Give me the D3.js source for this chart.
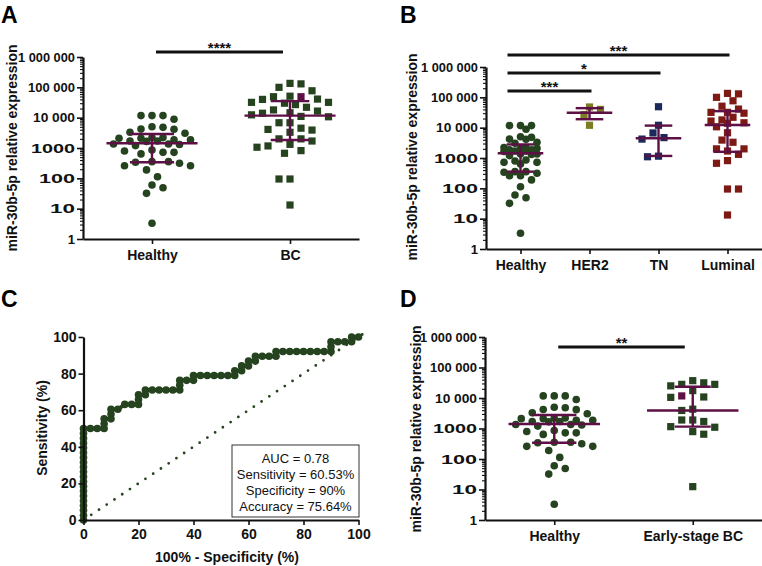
<!DOCTYPE html>
<html><head><meta charset="utf-8">
<script src="https://cdn.jsdelivr.net/npm/d3@7"></script>
<style>
body{margin:0;background:#fff}
svg{display:block}
text{font-family:Arial,"Liberation Sans",Helvetica,sans-serif}
</style>
</head><body>
<svg id="chart" width="762" height="566"></svg>
<script>
// ---------------- DATA ----------------
const healthy = [8900,11700,11700,11700,4800,4150,4200,5000,3050,3300,2200,2100,1850,2200,2100,1350,1200,1350,1300,1700,1650,1700,1850,860,720,640,720,800,355,340,260,260,315,355,190,113,49,60,32,3.3];
const bcAll = [135000,130000,100000,77000,51000,49000,49000,41000,40000,32000,27000,30000,32000,22000,18000,16500,14000,11000,10700,12400,14500,6800,6800,4500,3300,3900,4100,2000,2000,1700,1320,1060,1170,820,670,95,95,13.2];
const bcHighlight = [5];
const her2 = [40000,48000,27000,12000];
const tn = [49000,12000,6700,4700,4200,1100,1150];
const luminal = [135000,130000,100000,77000,51000,41000,32000,30000,32000,22000,18000,16500,14000,10700,14500,6800,3300,3900,2000,2000,1700,1320,820,670,95,95,13.2];
const earlyBC = [37000,31500,28000,28000,25000,17500,11700,10500,10800,4300,3900,1900,1900,1700,1150,1100,790,650,12.4];
const earlyHighlight = [6];

const logTickValues = [1,10,100,1000,10000,100000,1000000];
const logTickLabels = ["1","10","100","1000","10 000","100 000","1 000 000"];

const catsA = ["Healthy","BC"];
const medA = [1430,11700], q1A = [340,1830], q3A = [2900,35000];
const catsB = ["Healthy","HER2","TN","Luminal"];
const medB = [1430,31000,4500,12300], q1B = [355,19000,1170,1600], q3B = [2800,44000,11700,35000];
const catsD = ["Healthy","Early-stage BC"];
const medD = [1400,3900], q1D = [340,1150], q3D = [2770,23500];

const sigA = [{from:"Healthy",to:"BC",label:"****",level:0}];
const sigB = [{from:"Healthy",to:"Luminal",label:"***",level:0},{from:"Healthy",to:"TN",label:"*",level:1},{from:"Healthy",to:"HER2",label:"***",level:2}];
const sigD = [{from:"Healthy",to:"Early-stage BC",label:"**",level:0}];

const rocX = [0,0,0,0,0,0,0,0,0,0,0,0,0,0,0,0,0,0,0,0,2.5,5,7.5,7.5,7.5,10,10,10,12.5,15,17.5,20,20,20,22.5,22.5,25,27.5,30,32.5,35,35,35,37.5,40,40,42.5,45,47.5,50,52.5,55,55,57.5,57.5,60,60,62.5,62.5,65,67.5,70,70,72.5,75,77.5,80,82.5,85,87.5,90,90,90,92.5,95,97.5,97.5,100];
const rocY = [0,2.63,5.26,7.89,10.53,13.16,15.79,18.42,21.05,23.68,26.32,28.95,31.58,34.21,36.84,39.47,42.11,44.74,47.37,50,50,50,50,52.63,55.26,55.26,57.89,60.53,60.53,63.16,63.16,63.16,65.79,68.42,68.42,71.05,71.05,71.05,71.05,71.05,71.05,73.68,76.32,76.32,76.32,78.95,78.95,78.95,78.95,78.95,78.95,78.95,81.58,81.58,84.21,84.21,86.84,86.84,89.47,89.47,89.47,89.47,92.11,92.11,92.11,92.11,92.11,92.11,92.11,92.11,92.11,94.74,97.37,97.37,97.37,97.37,100,100];
const diagX = [0,104], diagY = [0,104];
const rocTicks = [0,20,40,60,80,100];
const insetLines = ["AUC = 0.78","Sensitivity = 60.53%","Specificity = 90%","Accuracy = 75.64%"];

// ---------------- STYLE ----------------
const GREEN = "#26431f", PURPLE = "#5e0f45";
const colB = {Healthy:GREEN, HER2:"#7b7d22", TN:"#1b2a5b", Luminal:"#7d1a14"};
// rendered label widths in the source graphic (its numbers are drawn stretched)
const labelWidth = {"1":6,"10":25,"100":36,"1000":44,"10 000":42,"100 000":47,"1 000 000":57};
const svg = d3.select("#chart");

function swarm(vals, yS, cx, maxHalf, minD, stepX){
  const pts = vals.map((v,i)=>({v,i,y:yS(v)}));
  const order = pts.slice().sort((a,b)=>a.y-b.y);
  const placed = [];
  const cands=[0];
  for(let k=1;k*stepX<=maxHalf+0.01;k++){cands.push(-k*stepX,k*stepX);}
  order.forEach((p,j)=>{
    let chosen=null,bestD=-1,bestDx=0;
    const cs = (j%2)? cands.map(c=>-c):cands;
    for(const dx of cs){
      let d=Infinity;
      for(const q of placed){const dd=Math.hypot(dx-q.dx,p.y-q.y); if(dd<d)d=dd;}
      if(d>=minD){chosen=dx;break;}
      if(d>bestD){bestD=d;bestDx=dx;}
    }
    p.dx = chosen!==null?chosen:bestDx;
    placed.push(p);
  });
  return pts.map(p=>({v:p.v,i:p.i,x:cx+p.dx,y:p.y}));
}

function logAxis(g, y, x0){
  const ax = g.append("g").attr("transform",`translate(${x0},0)`)
    .call(d3.axisLeft(y).tickValues(logTickValues).tickFormat((d,i)=>logTickLabels[i]).tickSize(6).tickSizeOuter(0).tickPadding(2));
  ax.select(".domain").attr("stroke","#111").attr("stroke-width",2.2);
  ax.selectAll(".tick line").attr("stroke","#111").attr("stroke-width",1.6);
  ax.selectAll("text").attr("font-size",13).attr("font-weight","bold").attr("fill","#111")
    .each(function(d,i){
      const t = logTickLabels[i];
      if(t.length>1) d3.select(this).attr("textLength",labelWidth[t]).attr("lengthAdjust","spacingAndGlyphs");
    });
  const minors=[];
  for(let e=0;e<6;e++) for(let m=2;m<=9;m++) minors.push(m*Math.pow(10,e));
  const mx = g.append("g").attr("transform",`translate(${x0},0)`)
    .call(d3.axisLeft(y).tickValues(minors).tickFormat("").tickSize(3).tickSizeOuter(0));
  mx.select(".domain").remove();
  mx.selectAll(".tick line").attr("stroke","#111").attr("stroke-width",1.1);
}
function catAxis(g, x, y0){
  const ax = g.append("g").attr("transform",`translate(0,${y0})`)
    .call(d3.axisBottom(x).tickSize(5).tickSizeOuter(0).tickPadding(6));
  ax.select(".domain").attr("stroke","#111").attr("stroke-width",1.8);
  ax.selectAll(".tick line").attr("stroke","#111").attr("stroke-width",1.6);
  ax.selectAll("text").attr("font-size",14).attr("font-weight","bold").attr("fill","#111");
}
function ytitle(g, txt, cx, cy){
  g.append("text").attr("transform",`translate(${cx},${cy}) rotate(-90)`).attr("text-anchor","middle")
   .attr("dominant-baseline","middle").attr("font-size",14).attr("font-weight","bold").attr("fill","#111").text(txt);
}
function letter(txt,x,y){
  svg.append("text").attr("x",x).attr("y",y).attr("font-size",23).attr("font-weight","bold").attr("fill","#000").text(txt);
}
function drawDots(g, pts, shape, color, hl){
  pts.forEach(p=>{
    const c = (hl && hl.includes(p.i)) ? PURPLE : color;
    if(shape==="circle") g.append("circle").attr("cx",p.x).attr("cy",p.y).attr("r",3.8).attr("fill",c);
    else g.append("rect").attr("x",p.x-3.6).attr("y",p.y-3.6).attr("width",7.2).attr("height",7.2).attr("fill",c);
  });
}
function errBar(g, cx, y, med, q1, q3, medW, capW){
  const ln=(x1,y1,x2,y2)=>g.append("line").attr("x1",x1).attr("y1",y1).attr("x2",x2).attr("y2",y2).attr("stroke",PURPLE).attr("stroke-width",2.4);
  ln(cx,y(q1),cx,y(q3));
  ln(cx-capW,y(q1),cx+capW,y(q1));
  ln(cx-capW,y(q3),cx+capW,y(q3));
  ln(cx-medW,y(med),cx+medW,y(med));
}
function sigBars(g, x, list, baseY, gap, startOff, endOff){
  list.forEach(s=>{
    const yy = baseY + s.level*gap;
    const x1 = x(s.from)+startOff, x2 = x(s.to)+endOff;
    g.append("line").attr("x1",x1).attr("x2",x2).attr("y1",yy).attr("y2",yy).attr("stroke","#111").attr("stroke-width",3);
    g.append("text").attr("x",(x1+x2)/2).attr("y",yy+1).attr("text-anchor","middle").attr("font-size",15).attr("font-weight","bold").attr("fill","#111").text(s.label);
  });
}

// ---------------- PANEL A ----------------
{
  const g = svg.append("g");
  const y = d3.scaleLog().domain([1,1e6]).range([239,57]);
  const x = d3.scalePoint().domain(catsA).range([83,359]).padding(0.5);
  const step = x.step();
  drawDots(g, swarm(healthy,y,x("Healthy"),0.3*step,9.5,5.5),"circle",GREEN);
  drawDots(g, swarm(bcAll,y,x("BC"),0.3*step,9.5,5.5),"square",GREEN,bcHighlight);
  catsA.forEach((c,i)=>errBar(g,x(c),y,medA[i],q1A[i],q3A[i],0.33*step,i?0.14*step:0.16*step));
  catAxis(g,x,239);
  logAxis(g,y,83);
  ytitle(g,"miR-30b-5p relative expression",13,148);
  sigBars(g,x,sigA,52,18,4,-7);
  letter("A",1,23);
}
// ---------------- PANEL B ----------------
{
  const g = svg.append("g");
  const y = d3.scaleLog().domain([1,1e6]).range([249,67]);
  const x = d3.scalePoint().domain(catsB).range([486,762]).padding(0.5);
  const step = x.step();
  const groups = [healthy,her2,tn,luminal];
  groups.forEach((vals,i)=>{
    drawDots(g, swarm(vals,y,x(catsB[i]),0.31*step,9,5.5), i===0?"circle":"square", colB[catsB[i]]);
  });
  catsB.forEach((c,i)=>errBar(g,x(c),y,medB[i],q1B[i],q3B[i],0.33*step,0.2*step));
  catAxis(g,x,249);
  logAxis(g,y,486);
  ytitle(g,"miR-30b-5p relative expression",413,157);
  sigBars(g,x,sigB,55,18,-13,2);
  letter("B",400,23);
}
// ---------------- PANEL C ----------------
{
  const g = svg.append("g");
  const x = d3.scaleLinear().domain([0,100]).range([83.5,358.5]);
  const y = d3.scaleLinear().domain([0,100]).range([520,337]);
  const line = d3.line().x(d=>x(d[0])).y(d=>y(d[1]));
  g.append("path").attr("d",line(diagX.map((v,i)=>[v,diagY[i]]))).attr("fill","none")
    .attr("stroke",GREEN).attr("stroke-width",2.8).attr("stroke-linecap","round").attr("stroke-dasharray","0 9.3");
  const roc = rocX.map((v,i)=>[v,rocY[i]]);
  g.append("path").attr("d",line(roc)).attr("fill","none").attr("stroke",GREEN).attr("stroke-width",3.8);
  roc.forEach(d=>g.append("circle").attr("cx",x(d[0])).attr("cy",y(d[1])).attr("r",3.8).attr("fill",GREEN));
  const ya = g.append("g").attr("transform","translate(83.5,0)")
    .call(d3.axisLeft(y).tickValues(rocTicks).tickSize(5).tickSizeOuter(0).tickPadding(2));
  const xa = g.append("g").attr("transform","translate(0,520)")
    .call(d3.axisBottom(x).tickValues(rocTicks).tickSize(5).tickSizeOuter(0).tickPadding(4));
  [ya,xa].forEach(a=>{
    a.select(".domain").attr("stroke","#111").attr("stroke-width",2.2);
    a.selectAll(".tick line").attr("stroke","#111").attr("stroke-width",1.6);
    a.selectAll("text").attr("font-size",14).attr("font-weight","bold").attr("fill","#111");
  });
  ytitle(g,"Sensitivity (%)",43,428);
  g.append("text").attr("x",227).attr("y",562).attr("text-anchor","middle").attr("font-size",14)
    .attr("font-weight","bold").attr("fill","#111").text("100% - Specificity (%)");
  g.append("rect").attr("x",232).attr("y",445).attr("width",127).attr("height",72)
    .attr("fill","#fff").attr("stroke","#333").attr("stroke-width",1);
  insetLines.forEach((t,i)=>g.append("text").attr("x",295.5).attr("y",462.5+i*16).attr("text-anchor","middle")
    .attr("font-size",13).attr("fill","#111").text(t));
  letter("C",1,307);
}
// ---------------- PANEL D ----------------
{
  const g = svg.append("g");
  const y = d3.scaleLog().domain([1,1e6]).range([520,337]);
  const x = d3.scalePoint().domain(catsD).range([485,762]).padding(0.5);
  const step = x.step();
  drawDots(g, swarm(healthy,y,x("Healthy"),0.3*step,9.5,5.5),"circle",GREEN);
  drawDots(g, swarm(earlyBC,y,x("Early-stage BC"),0.3*step,9.5,5.5),"square",GREEN,earlyHighlight);
  catsD.forEach((c,i)=>errBar(g,x(c),y,medD[i],q1D[i],q3D[i],0.33*step,i?0.13*step:0.16*step));
  catAxis(g,x,520);
  logAxis(g,y,485);
  ytitle(g,"miR-30b-5p relative expression",417,429);
  sigBars(g,x,sigD,347,18,4,-8);
  letter("D",400,307);
}
</script>
</body></html>
